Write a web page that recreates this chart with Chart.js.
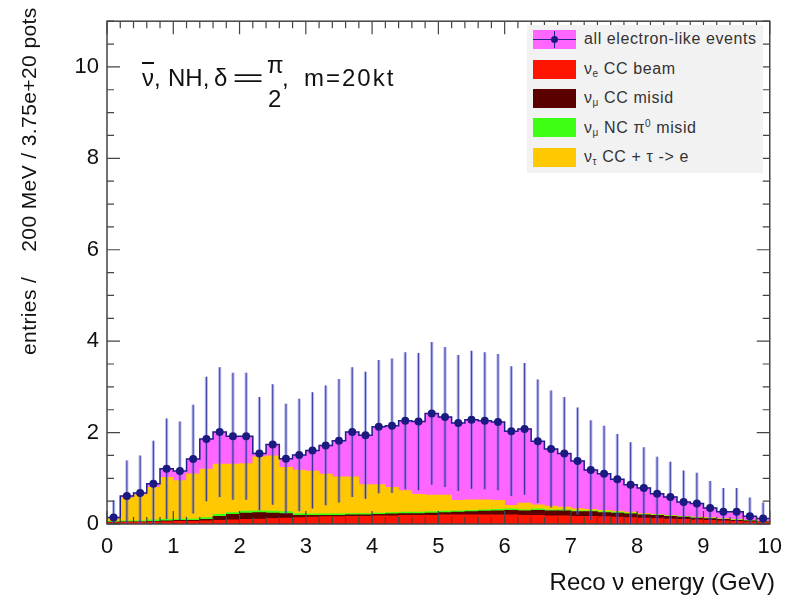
<!DOCTYPE html>
<html>
<head>
<meta charset="utf-8">
<script src="https://cdn.jsdelivr.net/npm/chart.js@4.4.1/dist/chart.umd.min.js"></script>
<style>
  body { margin: 0; background: #fff; font-family: "Liberation Sans", Arial, sans-serif; }
  #wrap { position: relative; width: 792px; height: 601px; }
  #wrap canvas { position: absolute; left: 0; top: 0; }
  .abs { position: absolute; white-space: pre; color: #111; line-height: 1; }
  #ytitle { font-size: 21px; letter-spacing: 0.4px; left: 18px; top: 355px; transform: rotate(-90deg); transform-origin: 0 0; }
  #xtitle { font-size: 24px; right: 17px; top: 570px; }
  #legend { position: absolute; left: 527px; top: 25px; width: 236px; height: 148px; background: #f2f2f2; }
  #legend .row { position: absolute; left: 6px; height: 19px; }
  #legend .sw { position: absolute; left: 0; top: 0; width: 43px; height: 19px; }
  #legend .txt { position: absolute; left: 51px; top: 0px; font-size: 16px; letter-spacing: 0.6px; color: #333; white-space: pre; line-height: 1.1; }
  #legend sub { font-size: 10px; vertical-align: -3px; }
  #legend sup { font-size: 10px; vertical-align: 6px; }
  .eh { position: absolute; left: 0; right: 0; top: 9px; height: 1px; background: #22228a; }
  .ev { position: absolute; left: 21px; top: 1px; bottom: 1px; width: 1px; background: #22228a; }
  .ed { position: absolute; left: 18px; top: 6px; width: 7px; height: 7px; border-radius: 50%; background: #1a1a80; }
  .t24 { font-size: 24px; }
</style>
</head>
<body>
<div id="wrap">
  <canvas id="chart"></canvas>
  <div class="abs" id="ytitle">entries /    200 MeV / 3.75e+20 pots</div>
  <div class="abs" id="xtitle">Reco ν energy (GeV)</div>
  <div class="abs t24" style="left:142px; top:66px;"><span style="text-decoration: overline;">ν</span>,</div>
  <div class="abs t24" style="left:168px; top:66px;">NH,</div>
  <div class="abs t24" style="left:214px; top:66px;">δ</div>
  <div class="abs t24" style="left:232px; top:66px; transform: scaleX(2.3); transform-origin: 0 0;">=</div>
  <div class="abs t24" style="left:267px; top:53px;">π</div>
  <div class="abs t24" style="left:268px; top:87px;">2</div>
  <div class="abs t24" style="left:282px; top:66px;">,</div>
  <div class="abs t24" style="left:304px; top:66px; letter-spacing: 2px;">m=20kt</div>
  <div id="legend">
    <div class="row" style="top:5px;"><span class="sw" style="background:#ff66ff"><i class="eh"></i><i class="ev"></i><i class="ed"></i></span><span class="txt">all electron-like events</span></div>
    <div class="row" style="top:35px;"><span class="sw" style="background:#ff1400"></span><span class="txt">ν<sub>e</sub> CC beam</span></div>
    <div class="row" style="top:64px;"><span class="sw" style="background:#5a0000"></span><span class="txt">ν<sub>μ</sub> CC misid</span></div>
    <div class="row" style="top:93px;"><span class="sw" style="background:#3cff14"></span><span class="txt">ν<sub>μ</sub> NC π<sup>0</sup> misid</span></div>
    <div class="row" style="top:123px;"><span class="sw" style="background:#ffc800"></span><span class="txt">ν<sub>τ</sub> CC + τ -&gt; e</span></div>
  </div>
</div>
<script>
// 200 MeV bins, lower edges in GeV
const binLow = [
  0.0, 0.2, 0.4, 0.6, 0.8, 1.0, 1.2, 1.4, 1.6, 1.8,
  2.0, 2.2, 2.4, 2.6, 2.8, 3.0, 3.2, 3.4, 3.6, 3.8,
  4.0, 4.2, 4.4, 4.6, 4.8, 5.0, 5.2, 5.4, 5.6, 5.8,
  6.0, 6.2, 6.4, 6.6, 6.8, 7.0, 7.2, 7.4, 7.6, 7.8,
  8.0, 8.2, 8.4, 8.6, 8.8, 9.0, 9.2, 9.4, 9.6, 9.8
];
const binWidth = 0.2;

// all electron-like events (points + magenta fill)
const allEvents = [
  0.14, 0.61, 0.68, 0.88, 1.21, 1.16, 1.42, 1.86, 2.01, 1.92,
  1.92, 1.54, 1.74, 1.43, 1.51, 1.61, 1.72, 1.82, 2.01, 1.94,
  2.13, 2.15, 2.26, 2.24, 2.42, 2.34, 2.21, 2.28, 2.26, 2.23,
  2.03, 2.08, 1.81, 1.64, 1.54, 1.38, 1.18, 1.10, 0.98, 0.86,
  0.79, 0.66, 0.59, 0.48, 0.45, 0.35, 0.27, 0.27, 0.17, 0.12
];
const allErrors = [
  0.38, 0.78, 0.82, 0.94, 1.10, 1.08, 1.19, 1.36, 1.42, 1.39,
  1.39, 1.24, 1.32, 1.20, 1.23, 1.27, 1.31, 1.35, 1.42, 1.39,
  1.46, 1.47, 1.50, 1.50, 1.56, 1.53, 1.49, 1.51, 1.50, 1.49,
  1.42, 1.44, 1.35, 1.28, 1.24, 1.17, 1.09, 1.05, 0.99, 0.93,
  0.89, 0.81, 0.77, 0.69, 0.67, 0.59, 0.52, 0.52, 0.41, 0.35
];

// stacked backgrounds, bottom to top
const nueBeam = [
  0.03, 0.04, 0.04, 0.05, 0.05, 0.06, 0.06, 0.07, 0.08, 0.09,
  0.10, 0.11, 0.12, 0.13, 0.14, 0.15, 0.16, 0.16, 0.17, 0.17,
  0.18, 0.18, 0.19, 0.19, 0.19, 0.20, 0.20, 0.20, 0.20, 0.20,
  0.20, 0.19, 0.19, 0.18, 0.18, 0.17, 0.17, 0.16, 0.15, 0.14,
  0.13, 0.12, 0.11, 0.10, 0.09, 0.08, 0.07, 0.06, 0.05, 0.04
];
const numuCC = [
  0.01, 0.01, 0.01, 0.01, 0.02, 0.02, 0.02, 0.03, 0.09, 0.12,
  0.14, 0.14, 0.12, 0.10, 0.05, 0.04, 0.03, 0.03, 0.03, 0.03,
  0.03, 0.04, 0.04, 0.04, 0.05, 0.05, 0.06, 0.07, 0.08, 0.09,
  0.10, 0.10, 0.11, 0.11, 0.11, 0.10, 0.10, 0.09, 0.09, 0.08,
  0.07, 0.07, 0.06, 0.05, 0.04, 0.04, 0.03, 0.02, 0.02, 0.01
];
const numuNC = [
  0.02, 0.02, 0.02, 0.03, 0.03, 0.03, 0.03, 0.04, 0.04, 0.04,
  0.04, 0.04, 0.04, 0.04, 0.04, 0.03, 0.03, 0.03, 0.03, 0.03,
  0.03, 0.03, 0.03, 0.03, 0.03, 0.03, 0.03, 0.03, 0.03, 0.03,
  0.03, 0.02, 0.03, 0.02, 0.02, 0.02, 0.02, 0.02, 0.02, 0.02,
  0.01, 0.01, 0.01, 0.01, 0.01, 0.01, 0.01, 0.01, 0.01, 0.01
];
const nutauCC = [
  0.06, 0.50, 0.57, 0.71, 0.92, 0.84, 0.99, 1.06, 1.10, 1.06,
  1.04, 1.18, 1.21, 0.97, 0.95, 0.94, 0.87, 0.81, 0.80, 0.63,
  0.62, 0.55, 0.47, 0.39, 0.36, 0.35, 0.23, 0.23, 0.22, 0.20,
  0.08, 0.15, 0.09, 0.08, 0.06, 0.05, 0.03, 0.03, 0.02, 0.02,
  0.02, 0.01, 0.01, 0.01, 0.01, 0.01, 0.01, 0.01, 0.00, 0.00
];

const xTicks = [0, 1, 2, 3, 4, 5, 6, 7, 8, 9, 10];
const yTicks = [0, 2, 4, 6, 8, 10];

// points, error bars, outline, frame with inward ticks (ROOT style)
const rootStyle = {
  id: 'rootStyle',
  afterDatasetsDraw(chart) {
    const { ctx, chartArea: a, scales } = chart;
    const xs = scales.xE, ys = scales.y;
    ctx.save();
    ctx.beginPath();
    ctx.rect(a.left, a.top, a.right - a.left, a.bottom - a.top);
    ctx.clip();

    // histogram outline of all events
    ctx.strokeStyle = '#1f1f8c';
    ctx.lineWidth = 1.5;
    ctx.beginPath();
    binLow.forEach((lo, i) => {
      const x0 = xs.getPixelForValue(lo);
      const x1 = xs.getPixelForValue(lo + binWidth);
      const y = ys.getPixelForValue(allEvents[i]);
      if (i === 0) ctx.moveTo(x0, y); else ctx.lineTo(x0, y);
      ctx.lineTo(x1, y);
    });
    ctx.stroke();

    // vertical error bars
    binLow.forEach((lo, i) => {
      const xc = xs.getPixelForValue(lo + binWidth / 2);
      const yT = ys.getPixelForValue(allEvents[i] + allErrors[i]);
      const yB = ys.getPixelForValue(allEvents[i] - allErrors[i]);
      ctx.strokeStyle = 'rgba(100,110,220,0.45)';
      ctx.lineWidth = 3.2;
      ctx.beginPath(); ctx.moveTo(xc, yT); ctx.lineTo(xc, yB); ctx.stroke();
      ctx.strokeStyle = 'rgba(28,28,140,0.75)';
      ctx.lineWidth = 1.1;
      ctx.beginPath(); ctx.moveTo(xc, yT); ctx.lineTo(xc, yB); ctx.stroke();
    });

    // markers
    ctx.fillStyle = '#1a1a80';
    binLow.forEach((lo, i) => {
      const xc = xs.getPixelForValue(lo + binWidth / 2);
      const y = ys.getPixelForValue(allEvents[i]);
      ctx.beginPath(); ctx.arc(xc, y, 4, 0, Math.PI * 2); ctx.fill();
    });
    ctx.restore();

    // frame and ticks
    ctx.save();
    ctx.strokeStyle = '#444';
    ctx.lineWidth = 1.5;
    ctx.strokeRect(a.left, a.top, a.right - a.left, a.bottom - a.top);
    ctx.lineWidth = 1.2;
    ctx.beginPath();
    for (let v = 0; v <= 10.001; v += 0.2) {
      const x = xs.getPixelForValue(v);
      const len = Math.abs(v - Math.round(v)) < 0.01 ? 13 : 7;
      ctx.moveTo(x, a.bottom); ctx.lineTo(x, a.bottom - len);
      ctx.moveTo(x, a.top); ctx.lineTo(x, a.top + len);
    }
    for (let v = 0; v <= 11.001; v += 0.5) {
      const y = ys.getPixelForValue(v);
      const len = Math.abs(v / 2 - Math.round(v / 2)) < 0.01 ? 13 : 7;
      ctx.moveTo(a.left, y); ctx.lineTo(a.left + len, y);
      ctx.moveTo(a.right, y); ctx.lineTo(a.right - len, y);
    }
    ctx.stroke();
    ctx.restore();
  }
};

const barCommon = {
  barPercentage: 1,
  categoryPercentage: 1,
  grouped: false,
  borderWidth: 0
};

const ctx = document.getElementById('chart').getContext('2d');
const chart = new Chart(ctx, {
  type: 'bar',
  data: {
    labels: binLow.map(String),
    datasets: [
      { label: 'νe CC beam', data: nueBeam, backgroundColor: '#ff1400', stack: 'mc', ...barCommon },
      { label: 'νμ CC misid', data: numuCC, backgroundColor: '#5a0000', stack: 'mc', ...barCommon },
      { label: 'νμ NC π0 misid', data: numuNC, backgroundColor: '#3cff14', stack: 'mc', ...barCommon },
      { label: 'ντ CC + τ -> e', data: nutauCC, backgroundColor: '#ffc800', stack: 'mc', ...barCommon },
      { label: 'all electron-like events', data: allEvents, backgroundColor: '#ff66ff', stack: 'all', ...barCommon }
    ]
  },
  options: {
    responsive: true,
    maintainAspectRatio: false,
    animation: false,
    events: [],
    layout: { padding: { left: 0, right: 17, top: 13, bottom: 0 } },
    plugins: { legend: { display: false }, tooltip: { enabled: false } },
    scales: {
      x: { display: false, stacked: true, offset: true },
      xE: {
        type: 'linear',
        position: 'bottom',
        offset: false,
        min: 0,
        max: 10,
        afterBuildTicks: (s) => { s.ticks = xTicks.map(v => ({ value: v })); },
        afterFit: (s) => { s.height = 77; },
        ticks: { color: '#111', padding: 10, font: { size: 22, family: 'Liberation Sans' } },
        grid: { display: false, drawTicks: false, offset: false },
        border: { display: false }
      },
      y: {
        stacked: true,
        min: 0,
        max: 11,
        afterBuildTicks: (s) => { s.ticks = yTicks.map(v => ({ value: v })); },
        afterFit: (s) => { s.width = 107; },
        ticks: { color: '#111', padding: 8, font: { size: 22, family: 'Liberation Sans' } },
        grid: { display: false, drawTicks: false },
        border: { display: false }
      }
    }
  },
  plugins: [rootStyle]
});
</script>
</body>
</html>
